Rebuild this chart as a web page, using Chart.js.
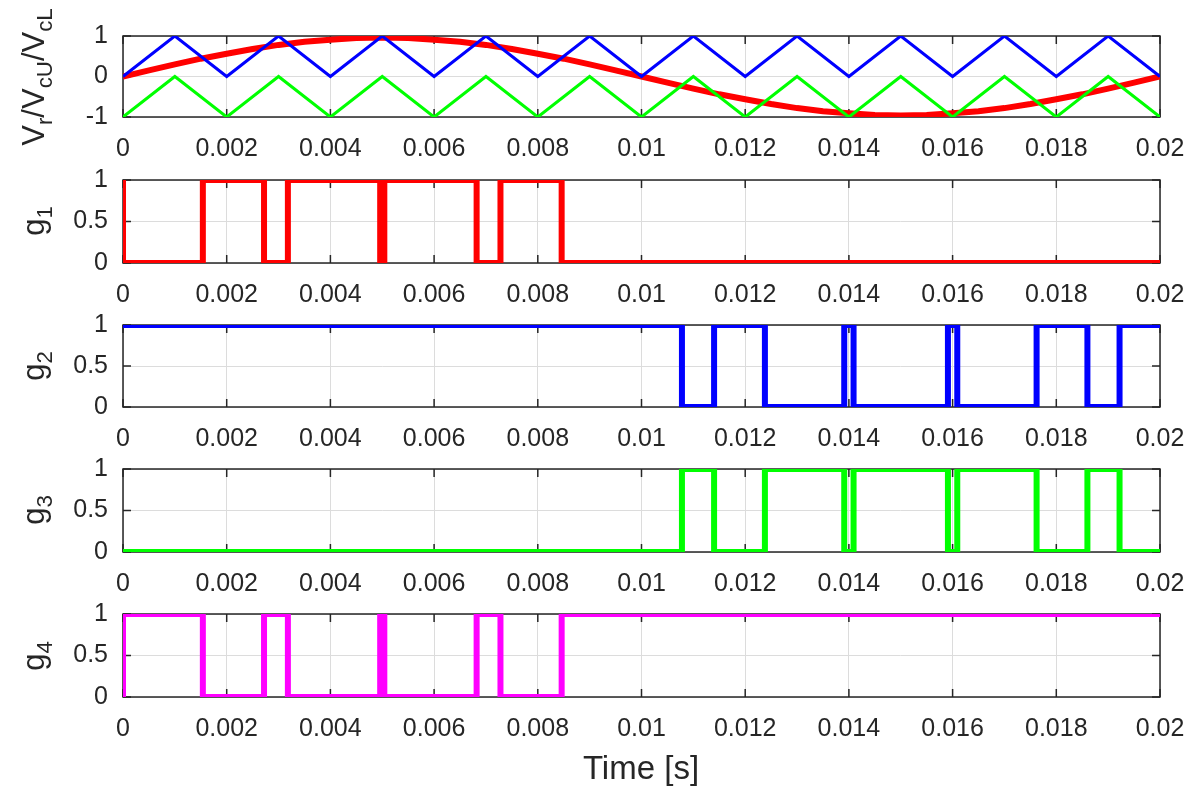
<!DOCTYPE html>
<html>
<head>
<meta charset="utf-8">
<script src="https://cdn.jsdelivr.net/npm/chart.js@4.4.1/dist/chart.umd.min.js"></script>
<style>
  body { margin: 0; background: #fff; width: 1197px; height: 787px; overflow: hidden; position: relative;
         font-family: "Liberation Sans", Arial, sans-serif; color: #262626; }
  canvas { position: absolute; left: 0; }
  .ylab { position: absolute; font-size: 31px; white-space: nowrap; transform: translate(-50%, -50%) rotate(-90deg); }
  .ylab sub { font-size: 0.72em; vertical-align: -0.32em; }
  #xlab { position: absolute; left: 641px; top: 768px; transform: translate(-50%, -50%); font-size: 33px; white-space: nowrap; }
</style>
</head>
<body>
<canvas id="p1" width="1197"></canvas>
<canvas id="p2" width="1197"></canvas>
<canvas id="p3" width="1197"></canvas>
<canvas id="p4" width="1197"></canvas>
<canvas id="p5" width="1197"></canvas>
<div class="ylab" style="left:37px; top:77px">V<sub>r</sub>/V<sub>cU</sub>/V<sub>cL</sub></div>
<div class="ylab" style="left:37px; top:221px">g<sub>1</sub></div>
<div class="ylab" style="left:37px; top:366px">g<sub>2</sub></div>
<div class="ylab" style="left:37px; top:510px">g<sub>3</sub></div>
<div class="ylab" style="left:37px; top:656px">g<sub>4</sub></div>
<div id="xlab">Time [s]</div>
<script>
// time axis
const xTicks = [0, 0.002, 0.004, 0.006, 0.008, 0.01, 0.012, 0.014, 0.016, 0.018, 0.02];
const xTickLabels = ['0', '0.002', '0.004', '0.006', '0.008', '0.01', '0.012', '0.014', '0.016', '0.018', '0.02'];

// reference sine, sampled every 0.5 ms
const refTime = [0, 0.0005, 0.001, 0.0015, 0.002, 0.0025, 0.003, 0.0035, 0.004, 0.0045, 0.005,
  0.0055, 0.006, 0.0065, 0.007, 0.0075, 0.008, 0.0085, 0.009, 0.0095, 0.01,
  0.0105, 0.011, 0.0115, 0.012, 0.0125, 0.013, 0.0135, 0.014, 0.0145, 0.015,
  0.0155, 0.016, 0.0165, 0.017, 0.0175, 0.018, 0.0185, 0.019, 0.0195, 0.02];
const refValues = [0, 0.15, 0.30, 0.44, 0.56, 0.68, 0.78, 0.86, 0.91, 0.95, 0.96,
  0.95, 0.91, 0.86, 0.78, 0.68, 0.56, 0.44, 0.30, 0.15, 0,
  -0.15, -0.30, -0.44, -0.56, -0.68, -0.78, -0.86, -0.91, -0.95, -0.96,
  -0.95, -0.91, -0.86, -0.78, -0.68, -0.56, -0.44, -0.30, -0.15, 0];

// carrier vertices
const carrierTime = [0, 0.001, 0.002, 0.003, 0.004, 0.005, 0.006, 0.007, 0.008, 0.009, 0.01,
  0.011, 0.012, 0.013, 0.014, 0.015, 0.016, 0.017, 0.018, 0.019, 0.02];
const upperCarrier = [0, 1, 0, 1, 0, 1, 0, 1, 0, 1, 0, 1, 0, 1, 0, 1, 0, 1, 0, 1, 0];
const lowerCarrier = [-1, 0, -1, 0, -1, 0, -1, 0, -1, 0, -1, 0, -1, 0, -1, 0, -1, 0, -1, 0, -1];

// gate signals: switching instants and the level after each one
const g1Times = [0, 0, 0.00154, 0.00272, 0.00318, 0.00496, 0.00504, 0.00682, 0.00728, 0.00846, 0.02];
const g1Levels = [1, 0, 1, 0, 1, 0, 1, 0, 1, 0, 0];
const g4Times = [0, 0, 0.00154, 0.00272, 0.00318, 0.00496, 0.00504, 0.00682, 0.00728, 0.00846, 0.02];
const g4Levels = [0, 1, 0, 1, 0, 1, 0, 1, 0, 1, 1];
const g2Times = [0, 0.01078, 0.0114, 0.01238, 0.01391, 0.01409, 0.01591, 0.01609, 0.01762, 0.0186, 0.01922, 0.02];
const g2Levels = [1, 0, 1, 0, 1, 0, 1, 0, 1, 0, 1, 1];
const g3Times = [0, 0.01078, 0.0114, 0.01238, 0.01391, 0.01409, 0.01591, 0.01609, 0.01762, 0.0186, 0.01922, 0.02];
const g3Levels = [0, 1, 0, 1, 0, 1, 0, 1, 0, 1, 0, 0];

const vTicks = [-1, 0, 1];
const vTickLabels = ['-1', '0', '1'];
const gTicks = [0, 0.5, 1];
const gTickLabels = ['0', '0.5', '1'];

const textColor = '#262626';
const gridColor = '#dcdcdc';
const font = { family: '"Liberation Sans", Arial, sans-serif', size: 25 };

function pts(xs, ys) {
    return xs.map((x, i) => ({ x: x, y: ys[i] }));
}

// axes box with inward tick marks, drawn under the traces
const boxPlugin = {
    id: 'box',
    beforeDatasetsDraw(chart) {
        const { ctx, chartArea: a, scales: { x, y } } = chart;
        const len = 8;
        ctx.save();
        ctx.strokeStyle = textColor;
        ctx.lineWidth = 1.5;
        ctx.beginPath();
        x.ticks.forEach(t => {
            const px = x.getPixelForValue(t.value);
            ctx.moveTo(px, a.bottom); ctx.lineTo(px, a.bottom - len);
            ctx.moveTo(px, a.top); ctx.lineTo(px, a.top + len);
        });
        y.ticks.forEach(t => {
            const py = y.getPixelForValue(t.value);
            ctx.moveTo(a.left, py); ctx.lineTo(a.left + len, py);
            ctx.moveTo(a.right, py); ctx.lineTo(a.right - len, py);
        });
        ctx.stroke();
        ctx.strokeRect(a.left, a.top, a.right - a.left, a.bottom - a.top);
        ctx.restore();
    }
};

function makePanel(id, plotTop, plotBottom, datasets, yMin, yMax, yTicks, yLabels) {
    const canvas = document.getElementById(id);
    const padTop = 16;
    const xAxisH = 56;
    canvas.height = padTop + (plotBottom - plotTop) + xAxisH;
    canvas.style.top = (plotTop - padTop) + 'px';

    return new Chart(canvas, {
        type: 'scatter',
        data: { datasets: datasets },
        plugins: [boxPlugin],
        options: {
            responsive: false,
            animation: false,
            events: [],
            layout: { padding: { top: padTop, right: 37, left: 0, bottom: 0 } },
            plugins: { legend: { display: false }, tooltip: { enabled: false } },
            elements: { point: { radius: 0 } },
            scales: {
                x: {
                    type: 'linear', min: 0, max: 0.02,
                    afterBuildTicks: s => { s.ticks = xTicks.map(v => ({ value: v })); },
                    afterFit: s => { s.height = xAxisH; s.paddingLeft = 0; s.paddingRight = 0; },
                    grid: { color: gridColor, drawTicks: false },
                    border: { display: false },
                    ticks: {
                        autoSkip: false, maxRotation: 0, padding: 17,
                        color: textColor, font: font,
                        callback: (v, i) => xTickLabels[i]
                    }
                },
                y: {
                    type: 'linear', min: yMin, max: yMax,
                    afterBuildTicks: s => { s.ticks = yTicks.map(v => ({ value: v })); },
                    afterFit: s => { s.width = 123; s.paddingTop = 0; s.paddingBottom = 0; },
                    grid: { color: gridColor, drawTicks: false },
                    border: { display: false },
                    ticks: {
                        autoSkip: false, padding: 15,
                        color: textColor, font: font,
                        callback: (v, i) => yLabels[i]
                    }
                }
            }
        }
    });
}

function trace(xs, ys, color, width, stepped) {
    return {
        data: pts(xs, ys),
        showLine: true,
        borderColor: color,
        backgroundColor: color,
        borderWidth: width,
        stepped: stepped || false,
        borderJoinStyle: 'miter'
    };
}

makePanel('p1', 36, 117, [
    trace(carrierTime, upperCarrier, '#0000ff', 3),
    trace(carrierTime, lowerCarrier, '#00ff00', 3),
    trace(refTime, refValues, '#ff0000', 6)
], -1, 1, vTicks, vTickLabels);

makePanel('p2', 180, 263, [trace(g1Times, g1Levels, '#ff0000', 6, true)], 0, 1, gTicks, gTickLabels);
makePanel('p3', 325, 407, [trace(g2Times, g2Levels, '#0000ff', 6, true)], 0, 1, gTicks, gTickLabels);
makePanel('p4', 469, 552, [trace(g3Times, g3Levels, '#00ff00', 6, true)], 0, 1, gTicks, gTickLabels);
makePanel('p5', 614, 697, [trace(g4Times, g4Levels, '#ff00ff', 6, true)], 0, 1, gTicks, gTickLabels);
</script>
</body>
</html>
